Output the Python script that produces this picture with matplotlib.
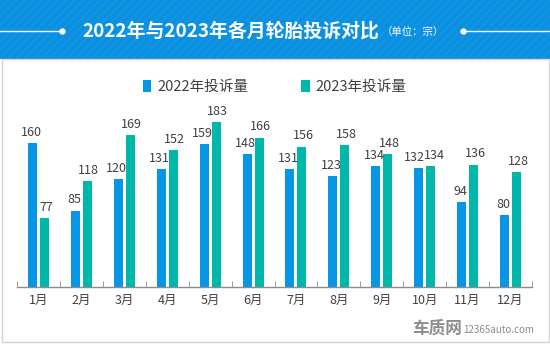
import matplotlib
matplotlib.use('Agg')
import matplotlib.pyplot as plt
import numpy as np
from matplotlib.patches import Rectangle

plt.rcParams['font.family'] = ['Noto Sans CJK SC', 'DejaVu Sans']

months = ['1月', '2月', '3月', '4月', '5月', '6月', '7月', '8月', '9月', '10月', '11月', '12月']
y2022 = [160, 85, 120, 131, 159, 148, 131, 123, 134, 132, 94, 80]
y2023 = [77, 118, 169, 152, 183, 166, 156, 158, 148, 134, 136, 128]
legend = ['2022年投诉量', '2023年投诉量']

c_blue = '#0795E6'
c_teal = '#00B8A9'
c_head = '#0A90E0'

W, H = 550, 344
fig = plt.figure(figsize=(W / 100, H / 100), dpi=100)

# header band and frame, drawn in pixel coords
bg = fig.add_axes([0, 0, 1, 1])
bg.set_xlim(0, W)
bg.set_ylim(H, 0)
bg.axis('off')
bg.add_patch(Rectangle((0, 0), W, 59, color=c_head, lw=0))
bg.add_patch(Rectangle((0, 0), W, 59, facecolor='none', edgecolor='#1896E2',
                       hatch='////', lw=0))
bg.add_patch(Rectangle((1.5, 59), W - 3, 282.5, facecolor='none', edgecolor='#d4d4d4', lw=1))
bg.plot([0, 62], [31, 31], color='white', lw=1)
bg.plot([463, W], [31, 31], color='white', lw=1)
bg.plot([62, 463], [31, 31], 'o', color='white', ms=3.5)
bg.text(82, 31, '2022年与2023年各月轮胎投诉对比', color='white', fontsize=13.6,
        fontweight='bold', va='center', ha='left')
bg.text(382, 32, '（单位：宗）', color='white', fontsize=7.5, va='center', ha='left')

# watermark
bg.text(412, 329, '车质网', color='#8e8e8e', fontsize=12, fontweight='bold',
        va='center', ha='left')
bg.text(463, 330, '12365auto.com', color='#8a8a8a', fontsize=7, va='center', ha='left')

ax = fig.add_axes([17 / W, 57 / H, 515 / W, 180 / H])
x = np.arange(len(months))
w = 0.21
off = 0.14
ax.bar(x - off, y2022, w, color=c_blue, label=legend[0])
ax.bar(x + off, y2023, w, color=c_teal, label=legend[1])

for i in range(len(months)):
    # push labels apart when the two bars are about the same height
    dx = 3 if abs(y2022[i] - y2023[i]) < 8 else 1
    ax.annotate(str(y2022[i]), (x[i] - off, y2022[i]), xytext=(-dx, 3),
                textcoords='offset points', ha='center', va='bottom',
                fontsize=9, color='#404040')
    ax.annotate(str(y2023[i]), (x[i] + off, y2023[i]), xytext=(dx, 3),
                textcoords='offset points', ha='center', va='bottom',
                fontsize=9, color='#404040')

ax.set_xlim(-0.5, len(months) - 0.5)
ax.set_ylim(0, 200)
for s in ['top', 'right', 'left']:
    ax.spines[s].set_visible(False)
ax.spines['bottom'].set_color('#8c8c8c')
ax.spines['bottom'].set_linewidth(1)
ax.set_yticks([])
ax.set_xticks(x)
ax.set_xticklabels(months, fontsize=9, color='#404040')
ax.tick_params(axis='x', length=0, pad=5)
ax.set_xticks(np.arange(-0.5, len(months)), minor=True)
ax.tick_params(axis='x', which='minor', direction='in', length=4, color='#8c8c8c')
ax.patch.set_alpha(0)

leg = ax.legend(loc='center', bbox_to_anchor=(0.5, 1.0 + (107 - 87) / 180), ncol=2,
                frameon=False, fontsize=10.5, handlelength=0.6, handleheight=0.9,
                handletextpad=0.4, columnspacing=3.6)
for t in leg.get_texts():
    t.set_color('#404040')

plt.savefig('out.png', dpi=100)
